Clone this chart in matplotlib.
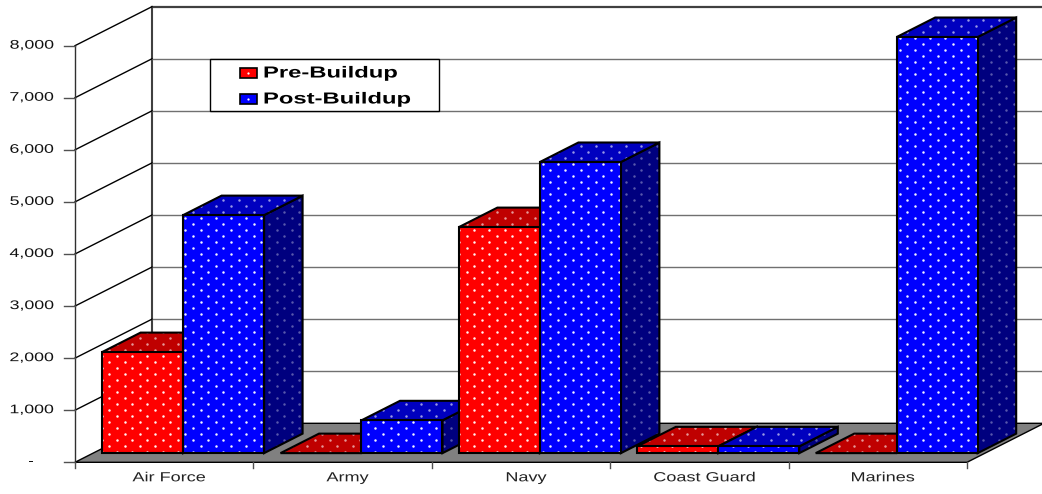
import numpy as np
import matplotlib
matplotlib.use('Agg')
import matplotlib.pyplot as plt
from matplotlib.patches import Polygon
from matplotlib.patheffects import AbstractPathEffect
from matplotlib.transforms import Affine2D, IdentityTransform

categorias = ['Air Force', 'Army', 'Navy', 'Coast Guard', 'Marines']
pre_buildup = [1940, 0, 4340, 130, 0]
post_buildup = [4570, 630, 5590, 130, 7990]
y_ticks = [0, 1000, 2000, 3000, 4000, 5000, 6000, 7000, 8000]
y_labels = ['-', '1,000', '2,000', '3,000', '4,000', '5,000', '6,000', '7,000', '8,000']

W, H = 1042, 494
PX_CAT = 178.4    # pixels por categoria
PX_VAL = 52.08 / 1000  # pixels por unidade
X0, Y0 = 75, 462.3  # canto frontal esquerdo do piso
DEPTH_X = 77 / PX_CAT
DEPTH_Y = 39 / PX_VAL
BAR_W = 81 / PX_CAT
GAP = 9 / PX_CAT
D0, D1 = 0.235, 0.735  # faixa de profundidade das barras


class Esticar(AbstractPathEffect):
    # alarga o texto na horizontal, a partir do ponto x dado em pixels
    def __init__(self, fator, x_ref):
        self.fator = fator
        self.x_ref = x_ref

    def draw_path(self, renderer, gc, tpath, affine, rgbFace=None):
        t = affine + Affine2D().translate(-self.x_ref, 0).scale(self.fator, 1).translate(self.x_ref, 0)
        renderer.draw_path(gc, tpath, t, rgbFace)


fig = plt.figure(figsize=(W / 100, H / 100), dpi=100)
ax = fig.add_axes([0, 0, 1, 1])
ax.set_xlim(-X0 / PX_CAT, (W - X0) / PX_CAT)
ax.set_ylim(-(H - Y0) / PX_VAL, Y0 / PX_VAL)
ax.axis('off')
plt.rcParams['font.family'] = 'Liberation Sans'


def proj(x, v, d):
    # posição no plano da figura para categoria x, valor v e profundidade d
    return (x + d * DEPTH_X, v + d * DEPTH_Y)


def pontos(patch, alpha, z):
    # malha de pontinhos brancos recortada pela face
    verts = patch.get_xy()
    px = ax.transData.transform(verts)
    gx, gy = [], []
    for i, yy in enumerate(np.arange(0, H, 6.0)):
        if px[:, 1].min() - 6 <= yy <= px[:, 1].max() + 6:
            xs = np.arange(3 + (i % 2) * 7.6, W, 15.2)
            gx.extend(xs)
            gy.extend([yy] * len(xs))
    sc = ax.scatter(gx, gy, s=3.2, c='white', alpha=alpha, linewidths=0,
                    transform=IdentityTransform(), zorder=z)
    sc.set_clip_path(patch)


def face(verts, cor, alpha, z):
    p = Polygon(verts, closed=True, facecolor=cor, edgecolor='none', zorder=z)
    ax.add_patch(p)
    pontos(p, alpha, z + 0.1)
    ax.add_patch(Polygon(verts, closed=True, fill=False, edgecolor='black', linewidth=1.5, zorder=z + 0.2, joinstyle='miter'))


def barra(x, valor, frente, topo, lado, z):
    a, b = x, x + BAR_W
    if valor > 0:
        face([proj(b, 0, D0), proj(b, 0, D1), proj(b, valor, D1), proj(b, valor, D0)], lado, 0.35, z)
        face([proj(a, 0, D0), proj(b, 0, D0), proj(b, valor, D0), proj(a, valor, D0)], frente, 0.95, z + 1)
    face([proj(a, valor, D0), proj(b, valor, D0), proj(b, valor, D1), proj(a, valor, D1)], topo, 0.6, z + 0.5)


n = len(categorias)
# parede do fundo e linhas de grade
ax.plot([DEPTH_X, DEPTH_X], [DEPTH_Y, y_ticks[-1] + DEPTH_Y], color='#404040', lw=1.5, zorder=1)
for v in y_ticks[1:]:
    lw = 1.6 if v == y_ticks[-1] else 1.0
    cor = '#404040' if v == y_ticks[-1] else '#707070'
    ax.plot([DEPTH_X, n + DEPTH_X], [v + DEPTH_Y, v + DEPTH_Y], color=cor, lw=lw, zorder=1)
    ax.plot([0, DEPTH_X], [v, v + DEPTH_Y], color='black', lw=1.0, zorder=1)
ax.plot([0, 0], [0, y_ticks[-1]], color='#303030', lw=1.0, zorder=1)

# piso
ax.add_patch(Polygon([proj(0, 0, 0), proj(n, 0, 0), proj(n, 0, 1), proj(0, 0, 1)], closed=True,
                     facecolor='#808080', edgecolor='black', linewidth=1.0, zorder=2))

# marcas e rótulos dos eixos
for v, txt in zip(y_ticks, y_labels):
    ax.plot([-11 / PX_CAT, 0], [v, v], color='#505050', lw=1.0, zorder=2)
    xt = 34 if txt == '-' else 54
    ax.text((xt - X0) / PX_CAT, v, txt, ha='right', va='center', fontsize=9, color='#111111',
            path_effects=[Esticar(1.42, xt)])
for i in range(n + 1):
    ax.plot([i, i], [0, -6 / PX_VAL], color='#505050', lw=1.0, zorder=2)
for i, nome in enumerate(categorias):
    xc = X0 + (i + 0.5) * PX_CAT + 5
    ax.text((xc - X0) / PX_CAT, -16 / PX_VAL, nome, ha='center', va='center', fontsize=9.5, color='#222222',
            path_effects=[Esticar(1.37, xc)])

# barras, de trás para a frente em cada categoria
for i in range(n):
    x1 = i + GAP
    x2 = x1 + BAR_W
    barra(x1, pre_buildup[i], '#FF0000', '#BF0000', '#7F0000', 10 + i * 5)
    barra(x2, post_buildup[i], '#0000FF', '#0000BF', '#00007F', 12 + i * 5)

# legenda
lx0, ly0, lx1, ly1 = 210, 59, 439, 111
leg = Polygon([((lx0 - X0) / PX_CAT, (Y0 - ly0) / PX_VAL), ((lx1 - X0) / PX_CAT, (Y0 - ly0) / PX_VAL),
               ((lx1 - X0) / PX_CAT, (Y0 - ly1) / PX_VAL), ((lx0 - X0) / PX_CAT, (Y0 - ly1) / PX_VAL)],
              closed=True, facecolor='white', edgecolor='black', linewidth=1.0, zorder=60)
ax.add_patch(leg)
for rotulo, cor, yy in [('Pre-Buildup', '#FF0000', 73), ('Post-Buildup', '#0000FF', 99)]:
    x_a, x_b = (240 - X0) / PX_CAT, (257 - X0) / PX_CAT
    y_a, y_b = (Y0 - yy - 5) / PX_VAL, (Y0 - yy + 5) / PX_VAL
    ax.add_patch(Polygon([(x_a, y_a), (x_b, y_a), (x_b, y_b), (x_a, y_b)], closed=True, facecolor=cor,
                         edgecolor='black', linewidth=1.2, zorder=61))
    ax.scatter([(248.5 - X0) / PX_CAT], [(Y0 - yy) / PX_VAL], s=2.6, c='white', linewidths=0, zorder=62)
    ax.text((263 - X0) / PX_CAT, (Y0 - yy) / PX_VAL, rotulo, ha='left', va='center', fontsize=11.5,
            fontweight='bold', color='black', zorder=62, path_effects=[Esticar(1.49, 263)])

fig.savefig('out.png', dpi=100)
